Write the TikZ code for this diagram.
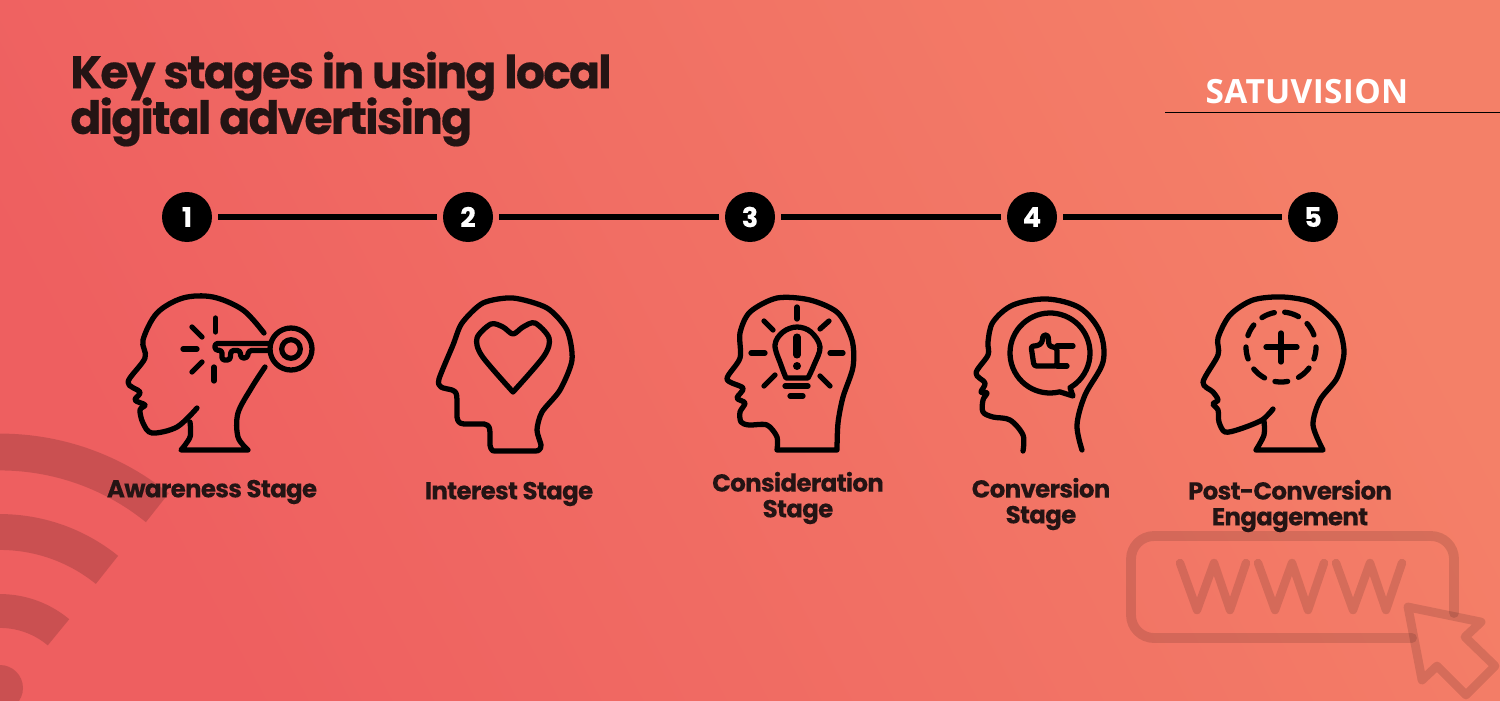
\documentclass[tikz,border=0pt]{standalone}
\usepackage{fontspec}
\setmainfont{Poppins}
\newfontfamily\openfont{Open Sans}
\usetikzlibrary{positioning}
\setlength{\lineskiplimit}{-20pt}
\definecolor{bgleft}{HTML}{EE5F60}
\definecolor{bgright}{HTML}{F48068}
\definecolor{inkdark}{HTML}{241414}
\tikzset{
	numdot/.style={circle, fill=black, text=white, minimum size=1cm, inner sep=0pt, font=\fontsize{15.5}{15.5}\selectfont\bfseries\addfontfeature{FakeBold=0.2}},
	link/.style={line width=3.2pt, shorten >=3.4pt, shorten <=3.4pt},
	icon/.style={line width=3pt, line cap=round, line join=round},
	stagelabel/.style={text=inkdark, align=center, inner sep=0pt, font=\fontsize{14}{14.7}\selectfont\bfseries\addfontfeature{LetterSpace=-3, FakeBold=0.15}},
	ghost/.style={line width=5.6pt, black, draw opacity=0.12, line cap=round, line join=round},
	wave/.style={black, draw opacity=0.15}
}

\begin{document}
\begin{tikzpicture}[x=0.02cm, y=-0.02cm]
\clip (0,0) rectangle (1500,700);
\shade[left color=bgleft, right color=bgright, shading angle=118] (0,0) rectangle (1500,700);

\foreach \rad/\wid/\ang in {250/37/51, 170/36/51, 91/34/50}
	\draw[wave, line width=\wid*0.567pt] plot[domain=\ang:92, samples=40] ({\rad*cos(\x)}, {702-\rad*sin(\x)});
\fill[black, fill opacity=0.15] (0,688) circle (23);

\draw[ghost] (1454,613) -- (1454,559) arc[start angle=0, end angle=90, x radius=23, y radius=-23] -- (1154,536) arc[start angle=90, end angle=180, x radius=23, y radius=-23] -- (1131,615) arc[start angle=180, end angle=270, x radius=23, y radius=-23] -- (1412,638);
\foreach \dx in {0,78,156}
	\draw[ghost, line width=4.8pt] (1180+\dx,563) -- (1197+\dx,610) -- (1214+\dx,563) -- (1230+\dx,610) -- (1246+\dx,563);
\draw[ghost, line width=5pt] (1408,607) -- (1481,622) -- (1465,637) -- (1495,666) -- (1466,695) -- (1437,666) -- (1422,680) -- cycle;

\node[anchor=west, text=inkdark, inner sep=0pt, align=left, font=\fontsize{26}{26}\selectfont\bfseries\addfontfeature{LetterSpace=-4, FakeBold=0.4}] (title) at (70,99) {Key stages in using local\\digital advertising};

\node[text=white, inner sep=0pt, font=\fontsize{19}{19}\selectfont\openfont\bfseries\addfontfeature{LetterSpace=1}] (brand) at (1307,92) {SATUVISION};
\coordinate (brandleft) at (1165,112.5);
\coordinate (brandright) at (1500,112.5);
\draw[line width=0.6pt] (brandleft) -- (brandright);

\node[numdot] (n1) at (187,217) {1};
\node[numdot] (n2) at (468,217) {2};
\node[numdot] (n3) at (750,217) {3};
\node[numdot] (n4) at (1032,217) {4};
\node[numdot] (n5) at (1313,217) {5};

\foreach \from/\to in {n1/n2, n2/n3, n3/n4, n4/n5}
	\draw[link] (\from) -- (\to);

\node[stagelabel] (awareness) at (212,492) {Awareness Stage};
\node[stagelabel] (interest) at (509,494) {Interest Stage};
\node[stagelabel] (consideration) at (798,498) {Consideration\\Stage};
\node[stagelabel] (conversion) at (1041,504) {Conversion\\Stage};
\node[stagelabel] (engagement) at (1290,506) {Post-Conversion\\Engagement};

\draw[icon] plot[smooth, tension=0.55] coordinates {(264,333) (243,310) (213,297) (183,298) (157,313) (143,340) (145,358) (128,382) (140,392) (135,400) (145,405) (140,410) (143,423) (152,433) (177,427) (197,408)};
\draw[icon] plot[smooth, tension=0.55] coordinates {(190,422) (190,437) (181,450)} -- (248,450) plot[smooth, tension=0.55] coordinates {(248,450) (238,437) (238,413) (252,387) (265,367)};
\draw[icon] (291,349) circle (21);
\draw[icon] (291,349) circle (9.3);
\draw[icon, rounded corners=1.5pt] (270,343.5) -- (215,343.5) -- (215,350) -- (222,350.5) -- (222,360) -- (230,360) -- (231,350.5) -- (240,350.5) -- (241,358) -- (247,358) -- (249,350.5) -- (270,350.5);
\foreach \xa/\ya/\xb/\yb in {215.5/318/215.5/332, 192/327/202/337, 183/349/197/349, 192/372/202/362, 214/367/214/381}
	\draw[icon] (\xa,\ya) -- (\xb,\yb);

\draw[icon] plot[smooth cycle, tension=0.45] coordinates {(537,430) (542,412) (560,390) (572,360) (567,330) (547,308) (513,298) (483,303) (462,323) (453,345) (439,379) (441,387) (452,390) (456,393) (457,400) (457,417) (459,422) (464,424) (484,424) (489,427) (490,433) (490,445) (492,450) (497,451) (533,451) (539,450) (541,445)};
\draw[icon] plot[smooth, tension=0.5] coordinates {(513,392) (482,356) (477,338) (491,324) (503,327) (513,334) (523,327) (535,323) (549,338) (544,356) (513,392)};

\draw[icon] plot[smooth, tension=0.5] coordinates {(837,450) (838,423) (843,397) (853,367) (852,340) (838,313) (810,300) (777,298) (750,312) (740,333) (740,358) (727,379) (743,388) (737,398) (745,403) (740,412) (741,422) (749,425) (767,425) (777,437) (777,450)} -- cycle;
\draw[icon] plot[smooth, tension=0.6] coordinates {(786,378) (781,365) (775,345) (783,332) (797,327) (811,332) (820,347) (814,365) (808,378)} -- cycle;
\foreach \xa/\ya/\xb/\yb in {797/307/797/319, 764/321/773/330, 751/353/765/353, 764/386/775/375, 830/353/843/353, 820/376/830/386, 829/321/820/329, 785/386/808/386, 790/396/803/396}
	\draw[icon] (\xa,\ya) -- (\xb,\yb);
\draw[icon, line width=4pt] (797,337) -- (797,355);
\fill (797,366) circle (4);

\draw[icon] plot[smooth, tension=0.55] coordinates {(1082,450) (1077,425) (1085,395) (1103,362) (1100,332) (1080,308) (1047,299) (1013,305) (993,322) (988,342) (988,355) (976,373) (985,383) (981,392) (987,393) (983,400) (983,412) (993,417) (1010,420) (1023,435) (1023,451)};
\draw[icon] plot[domain=76:420, samples=60] ({1050+40*cos(\x)}, {353+40*sin(\x)}) -- (1073,396) -- cycle;
\draw[icon, rounded corners=1.5pt] (1057,348) -- (1049,346) -- (1048,335) -- (1043,335) -- (1042,343) -- (1037,346) -- (1031,346) -- (1034,366) -- (1057,366) -- cycle;
\foreach \xa/\ya/\xb/\yb in {1057/346/1073/346, 1057/366/1067/366}
	\draw[icon] (\xa,\ya) -- (\xb,\yb);

\draw[icon] plot[smooth, tension=0.5] coordinates {(1273,409) (1262,420) (1240,429) (1225,432) (1219,422) (1218,410) (1213,404) (1218,400) (1213,392) (1203,382) (1218,355) (1218,338) (1230,315) (1253,300) (1283,297) (1313,303) (1337,325) (1344,352) (1337,378) (1320,400) (1313,425) (1323,450)} -- (1256,450) plot[smooth, tension=0.5] coordinates {(1256,450) (1264,435) (1264,421)};
\foreach \a/\b in {-123/-101, -84/-60, -42/-20, 0/20, 37/60, 79/100, 118/141, 160/180, 199/219}
	\draw[icon] plot[domain=\a:\b, samples=8] ({1281+35*cos(\x)}, {347+35*sin(\x)});
\draw[icon] (1281,333) -- (1281,362);
\draw[icon] (1266,347) -- (1297,347);
\end{tikzpicture}
\end{document}
